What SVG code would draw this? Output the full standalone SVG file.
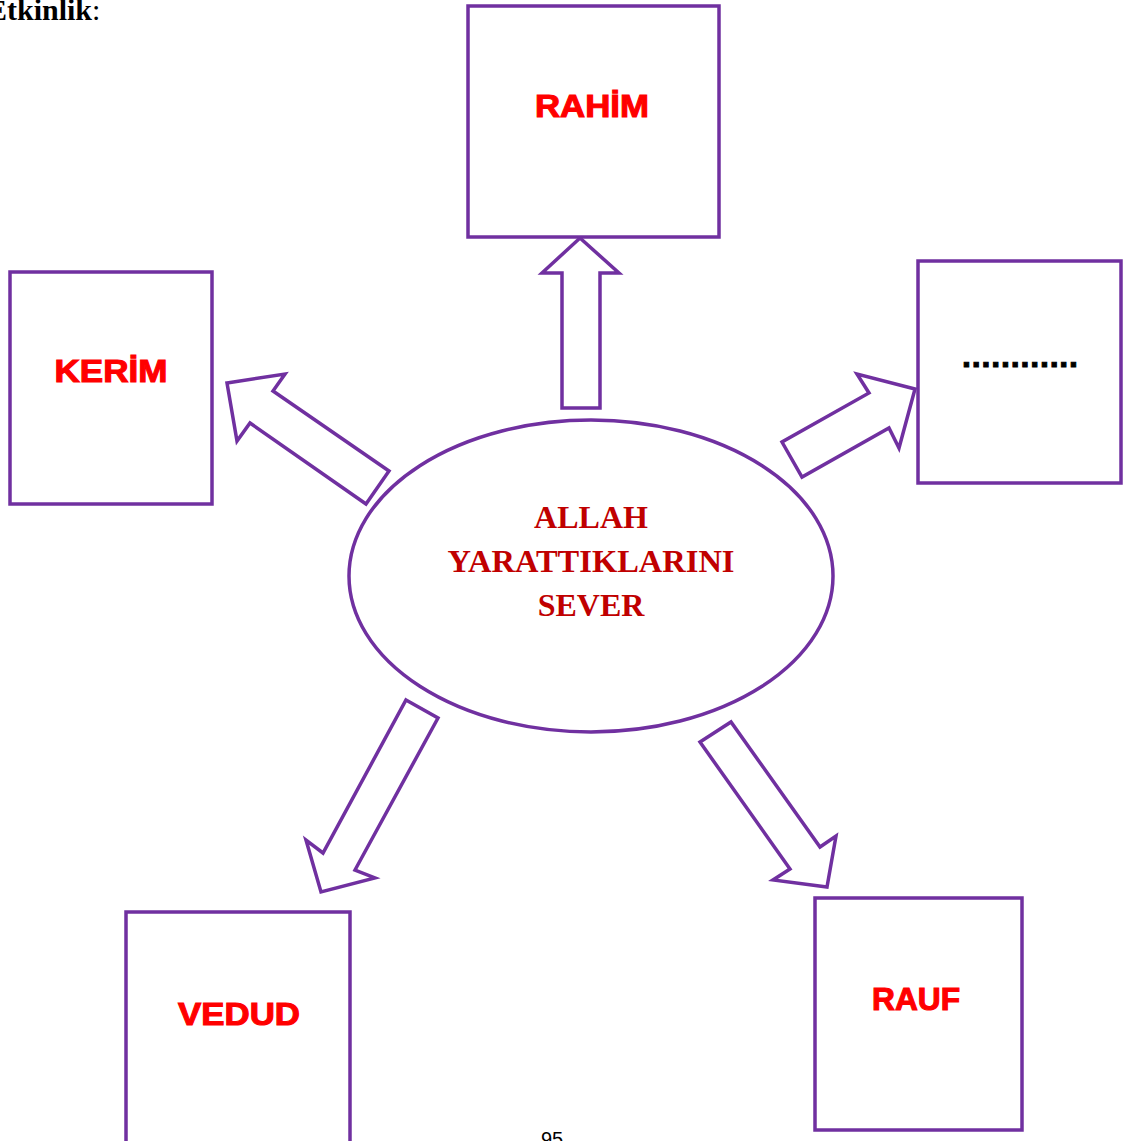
<svg xmlns="http://www.w3.org/2000/svg" width="1131" height="1141" viewBox="0 0 1131 1141">
<style>
.box{fill:#fff;stroke:#7030A0;stroke-width:3.5}
.arr{fill:#fff;stroke:#7030A0;stroke-width:3.5;stroke-linejoin:miter}
.lbl{font-family:"Liberation Sans",Arial,sans-serif;font-weight:bold;font-size:32px;fill:#FF0000;stroke:#FF0000;stroke-width:1.1;text-anchor:middle}
.ctr{font-family:"Liberation Serif","Times New Roman",serif;font-weight:bold;font-size:32px;fill:#C00000;text-anchor:middle}
</style>
<rect width="1131" height="1141" fill="#fff"/>
<text x="-13" y="20" font-family="Liberation Serif,'Times New Roman',serif" font-size="30" font-weight="bold">Etkinlik<tspan font-weight="normal">:</tspan></text>
<g id="connectors">
<polygon class="arr" points="580,238 619,273 600,273 600,408 562,408 562,273 542,273"/>
<polygon class="arr" points="227,383 285,374 273,391 389,471 366,504 250,423 237,441"/>
<polygon class="arr" points="915,389 857,374 869,393 782,442 802,477 889,428 899,448"/>
<polygon class="arr" points="406,700 438,718 355,870 375,878 321,892 306,840 323,853"/>
<polygon class="arr" points="700,742 731,722 820,847 836,836 827,887 773,880 790,869"/>
</g>
<g id="center">
<ellipse cx="591" cy="576" rx="242" ry="156" fill="#fff" stroke="#7030A0" stroke-width="3.5"/>
<text class="ctr" x="591" y="528">ALLAH</text>
<text class="ctr" x="591" y="572" textLength="287" lengthAdjust="spacingAndGlyphs">YARATTIKLARINI</text>
<text class="ctr" x="591" y="616">SEVER</text>
</g>
<g id="rahim">
<rect class="box" x="468" y="6" width="251" height="231"/>
<text class="lbl" x="592" y="117" textLength="114" lengthAdjust="spacingAndGlyphs">RAHİM</text>
</g>
<g id="kerim">
<rect class="box" x="10" y="272" width="202" height="232"/>
<text class="lbl" x="111" y="382" textLength="113" lengthAdjust="spacingAndGlyphs">KERİM</text>
</g>
<g id="dots">
<rect class="box" x="918" y="261" width="203" height="222"/>
<text x="1020" y="367" font-family="Liberation Sans,Arial,sans-serif" font-weight="bold" font-size="32" fill="#000" stroke="#000" stroke-width="1" text-anchor="middle" textLength="116" lengthAdjust="spacing">............</text>
</g>
<g id="vedud">
<rect class="box" x="126" y="912" width="224" height="240"/>
<text class="lbl" x="239" y="1025" textLength="122" lengthAdjust="spacingAndGlyphs">VEDUD</text>
</g>
<g id="rauf">
<rect class="box" x="815" y="898" width="207" height="232"/>
<text class="lbl" x="916" y="1010" textLength="88" lengthAdjust="spacingAndGlyphs">RAUF</text>
</g>
<text x="552" y="1146" font-family="Liberation Sans,Arial,sans-serif" font-size="20" text-anchor="middle">95</text>
</svg>
